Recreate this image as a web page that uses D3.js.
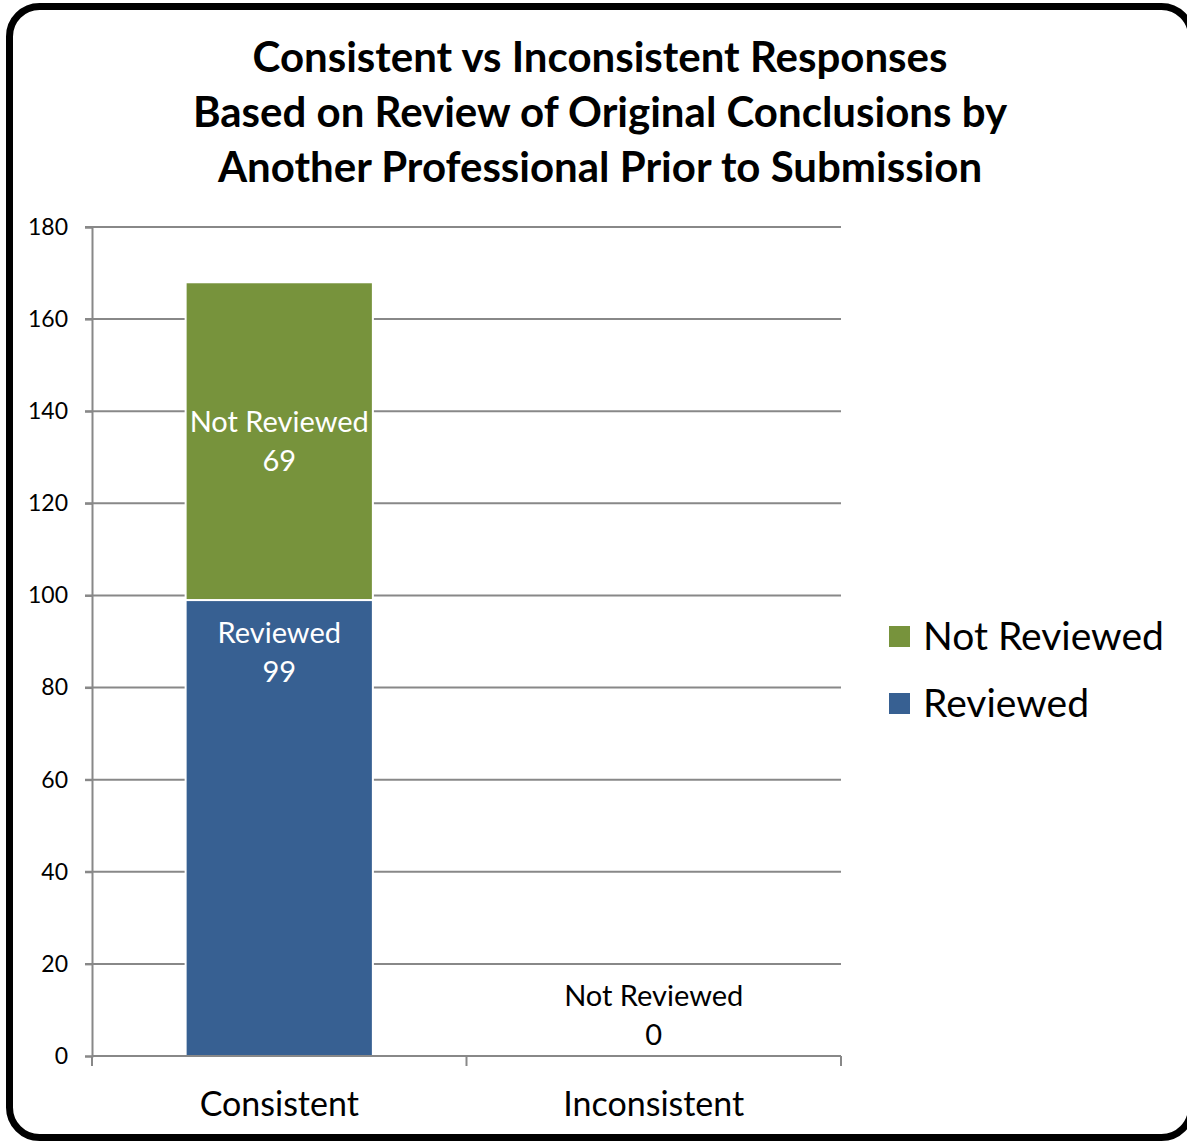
<!DOCTYPE html>
<html>
<head>
<meta charset="utf-8">
<script src="https://cdn.jsdelivr.net/npm/d3@7"></script>
<style>
  body { margin: 0; background: #fff; }
  svg { display: block; font-family: Lato, "Open Sans", sans-serif; }
</style>
</head>
<body>
<svg id="chart" width="1187" height="1141"></svg>
<script>
// chart values
const titleLines = ['Consistent vs Inconsistent Responses',
  'Based on Review of Original Conclusions by',
  'Another Professional Prior to Submission'];
const categories = ['Consistent', 'Inconsistent'];
const seriesKeys = ['Reviewed', 'Not Reviewed'];
const reviewed = [99, 0];
const notReviewed = [69, 0];
const yTicks = [0, 20, 40, 60, 80, 100, 120, 140, 160, 180];
const colors = {'Reviewed': '#376092', 'Not Reviewed': '#77933C'};

const data = categories.map((c, i) => ({
  cat: c,
  'Reviewed': reviewed[i],
  'Not Reviewed': notReviewed[i]
}));

const svg = d3.select('#chart');

// rounded frame
svg.append('rect')
  .attr('x', 9.5).attr('y', 6.5)
  .attr('width', 1182).attr('height', 1131)
  .attr('rx', 30).attr('ry', 30)
  .attr('fill', '#fff')
  .attr('stroke', '#000')
  .attr('stroke-width', 7);

// title
svg.append('g').selectAll('text')
  .data(titleLines)
  .enter().append('text')
  .attr('x', 600)
  .attr('y', (d, i) => 72 + i * 55)
  .attr('text-anchor', 'middle')
  .style('font-weight', 'bold')
  .style('font-size', '42px')
  .text((d) => d);

const margin = {top: 227, left: 92},
  width = 749,
  height = 829,
  g = svg.append('g').attr('transform', `translate(${margin.left},${margin.top})`);

const x = d3.scaleBand().domain(categories).range([0, width]).paddingInner(0.5).paddingOuter(0.25);
const xb = d3.scaleBand().domain(categories).range([0, width]);
const y = d3.scaleLinear().domain([0, 180]).range([height, 0]);

// gridlines
g.append('g')
  .selectAll('line')
  .data(yTicks.slice(1))
  .enter().append('line')
  .attr('x1', -7).attr('x2', width)
  .attr('y1', (d) => y(d)).attr('y2', (d) => y(d))
  .attr('stroke', '#888').attr('stroke-width', 2);

// y axis
const yAxis = g.append('g')
  .call(d3.axisLeft(y).tickValues(yTicks).tickSize(7).tickPadding(17));
yAxis.selectAll('line').attr('stroke', '#888').attr('stroke-width', 2);
yAxis.select('.domain').attr('stroke', '#888').attr('stroke-width', 2);
yAxis.selectAll('text')
  .style('font-family', 'Lato, "Open Sans", sans-serif')
  .style('font-size', '23px')
  .attr('fill', '#000');

// stacked bars
const stacked = d3.stack().keys(seriesKeys)(data);
g.append('g')
  .selectAll('g')
  .data(stacked)
  .enter().append('g')
  .attr('fill', (d) => colors[d.key])
  .selectAll('rect')
  .data((d) => d.filter((v) => v[1] > v[0]))
  .enter().append('rect')
  .attr('x', (d) => x(d.data.cat))
  .attr('y', (d) => y(d[1]))
  .attr('width', x.bandwidth())
  .attr('height', (d) => y(d[0]) - y(d[1]))
  .attr('stroke', '#fff')
  .attr('stroke-width', 2);

// x axis
const xAxis = g.append('g')
  .attr('transform', `translate(0,${height})`)
  .call(d3.axisBottom(xb).tickSize(0).tickPadding(36));
xAxis.select('.domain').remove();
xAxis.selectAll('text')
  .style('font-family', 'Lato, "Open Sans", sans-serif')
  .style('font-size', '34px')
  .attr('fill', '#000');
g.append('line')
  .attr('x1', 0).attr('x2', width)
  .attr('y1', height).attr('y2', height)
  .attr('stroke', '#888').attr('stroke-width', 2);
g.append('g')
  .selectAll('line')
  .data([0, 1, 2])
  .enter().append('line')
  .attr('x1', (d) => d * xb.bandwidth()).attr('x2', (d) => d * xb.bandwidth())
  .attr('y1', height).attr('y2', height + 10)
  .attr('stroke', '#888').attr('stroke-width', 2);

// data labels
const labels = [];
stacked.forEach((s) => {
  s.forEach((d) => {
    const v = d[1] - d[0];
    let cy;
    let fill = '#fff';
    if (v === 0) {
      if (s.key !== 'Not Reviewed') return;
      cy = y(d[1]) - 60;
      fill = '#000';
    } else if (s.key === 'Reviewed') {
      cy = y(d[1]) + 33;
    } else {
      cy = (y(d[0]) + y(d[1])) / 2 - 19;
    }
    labels.push({name: s.key, value: v, cx: x(d.data.cat) + x.bandwidth() / 2, cy: cy, fill: fill});
  });
});
const lab = g.append('g').selectAll('text')
  .data(labels)
  .enter().append('text')
  .attr('text-anchor', 'middle')
  .attr('fill', (d) => d.fill)
  .style('font-size', '29px');
lab.append('tspan')
  .attr('x', (d) => d.cx)
  .attr('y', (d) => d.cy + 10)
  .text((d) => d.name);
lab.append('tspan')
  .attr('x', (d) => d.cx)
  .attr('y', (d) => d.cy + 49)
  .text((d) => d.value);

// legend
const legend = svg.append('g')
  .attr('transform', 'translate(889,626)')
  .selectAll('g')
  .data(seriesKeys.slice().reverse())
  .enter().append('g')
  .attr('transform', (d, i) => `translate(0,${i * 67})`);
legend.append('rect')
  .attr('width', 21).attr('height', 21)
  .attr('fill', (d) => colors[d]);
legend.append('text')
  .attr('x', 34).attr('y', 24)
  .style('font-size', '39px')
  .text((d) => d);
</script>
</body>
</html>
